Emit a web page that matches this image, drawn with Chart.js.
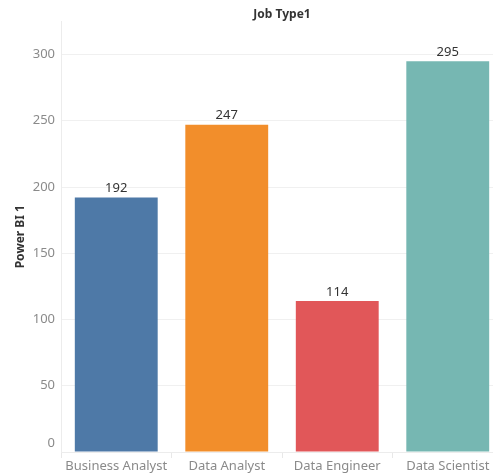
<!DOCTYPE html>
<html>
<head>
<meta charset="utf-8">
<title>Job Type1</title>
<script src="https://cdn.jsdelivr.net/npm/chart.js@4.4.1/dist/chart.umd.min.js"></script>
<style>
  html, body { margin: 0; padding: 0; background: #ffffff; }
  #wrap { width: 493px; height: 473px; overflow: hidden; position: relative; }
  canvas { display: block; }
</style>
</head>
<body>
<div id="wrap"><canvas id="chart" width="504" height="473"></canvas></div>
<script>
// Job types and their Power BI counts
const categories = ['Business Analyst', 'Data Analyst', 'Data Engineer', 'Data Scientist'];
const powerBiCounts = [192, 247, 114, 295];
const barColors = ['#4e79a7', '#f28e2b', '#e15759', '#76b7b2'];
const yTicks = [0, 50, 100, 150, 200, 250, 300];

const FONT = '"Noto Sans", "Open Sans", sans-serif';

// Value labels above each bar, plus the zero label lifted off the baseline
const barLabels = {
  id: 'barLabels',
  afterDatasetsDraw(chart) {
    const ctx = chart.ctx;
    const meta = chart.getDatasetMeta(0);
    const ds = chart.data.datasets[0];
    ctx.save();
    ctx.font = '13px ' + FONT;
    ctx.fillStyle = '#333333';
    ctx.textAlign = 'center';
    ctx.textBaseline = 'middle';
    meta.data.forEach((bar, i) => {
      ctx.fillText(String(ds.data[i]), bar.x, bar.y - 9);
    });
    const y = chart.scales.y;
    ctx.fillStyle = '#8a8a8a';
    ctx.textAlign = 'right';
    ctx.fillText(String(yTicks[0]), y.right - 6, y.getPixelForValue(yTicks[0]) - 9);
    ctx.restore();
  }
};

new Chart(document.getElementById('chart'), {
  type: 'bar',
  data: {
    labels: categories,
    datasets: [{
      label: 'Power BI 1',
      data: powerBiCounts,
      backgroundColor: barColors,
      borderWidth: 0,
      barPercentage: 0.75,
      categoryPercentage: 1.0
    }]
  },
  options: {
    responsive: false,
    animation: false,
    devicePixelRatio: 1,
    layout: { padding: { left: 0, right: 1, top: 0, bottom: 0 } },
    plugins: {
      legend: { display: false },
      tooltip: { enabled: false },
      title: {
        display: true,
        text: 'Job Type1',
        fullSize: false,
        color: '#333333',
        font: { family: FONT, size: 12, weight: 'bold' },
        padding: { top: 7, bottom: 0 }
      }
    },
    scales: {
      x: {
        grid: {
          display: true,
          drawOnChartArea: false,
          drawTicks: true,
          tickLength: 6,
          color: '#e8e8e8'
        },
        border: { display: true, color: '#ececec' },
        ticks: {
          color: '#8a8a8a',
          font: { family: FONT, size: 13 },
          padding: 0,
          maxRotation: 0,
          autoSkip: false
        },
        afterFit(scale) { scale.height = 21; }
      },
      y: {
        min: 0,
        max: 325,
        afterBuildTicks(scale) { scale.ticks = yTicks.map(v => ({ value: v })); },
        grid: { color: '#f0f0f0', drawTicks: false },
        border: { display: true, color: '#ececec' },
        ticks: {
          color: '#8a8a8a',
          font: { family: FONT, size: 13 },
          padding: 6,
          callback: (v) => (v === 0 ? '' : String(v))
        },
        title: {
          display: true,
          text: 'Power BI 1',
          color: '#333333',
          font: { family: FONT, size: 12, weight: 'bold' },
          padding: { top: 13, bottom: 0 }
        },
        afterFit(scale) { scale.width = 61; }
      }
    }
  },
  plugins: [barLabels]
});
</script>
</body>
</html>
